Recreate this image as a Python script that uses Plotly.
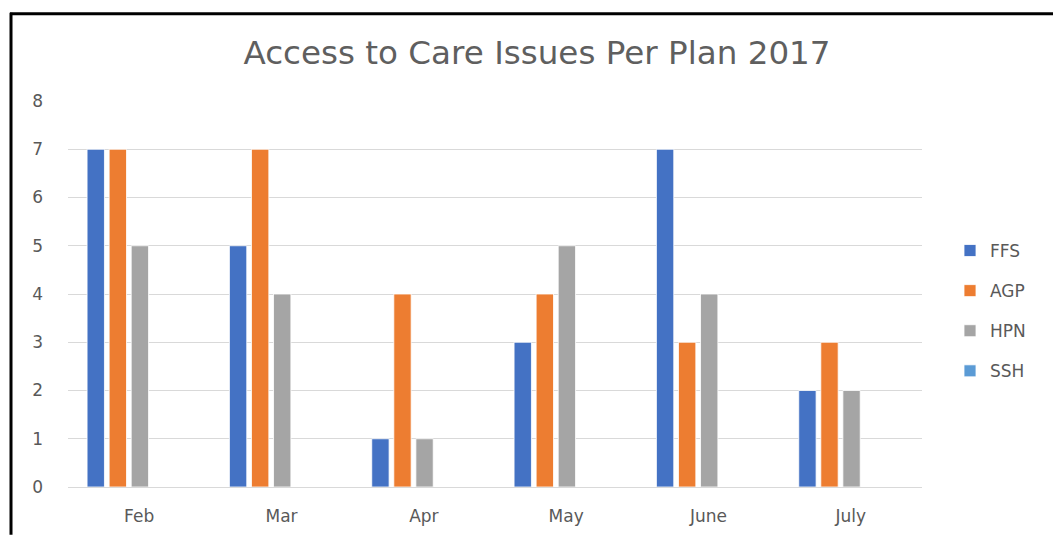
import plotly.graph_objects as go

months = ["Feb", "Mar", "Apr", "May", "June", "July"]
ffs = [7, 5, 1, 3, 7, 2]
agp = [7, 7, 4, 4, 3, 3]
hpn = [5, 4, 1, 5, 4, 2]
ssh = [0, 0, 0, 0, 0, 0]

series_names = ["FFS", "AGP", "HPN", "SSH"]
series_values = [ffs, agp, hpn, ssh]
colors = ["#4472C4", "#ED7D31", "#A5A5A5", "#5B9BD5"]

W, H = 1053, 538
L, R, T, B = 68, 131, 101, 48

bar_w = 0.122
step = 0.155
start = -0.366

FONT = "DejaVu Sans"

fig = go.Figure()
for i, (name, vals, col) in enumerate(zip(series_names, series_values, colors)):
    fig.add_trace(go.Bar(
        x=months, y=vals, name=name,
        marker=dict(color=col, line=dict(color="rgba(255,255,255,0.8)", width=1)),
        width=bar_w, offset=start + i * step,
        legendgroup=name,
    ))

def px_x(p):
    return (p - L) / (W - L - R)

def px_y(p):
    return (H - B - p) / (H - T - B)

fig.update_layout(
    width=W, height=H,
    margin=dict(l=L, r=R, t=T, b=B, pad=0),
    plot_bgcolor="white", paper_bgcolor="white",
    font=dict(family=FONT, color="#595959", size=17),
    title=dict(text="Access to Care Issues Per Plan 2017", x=537 / W, xanchor="center",
               y=1 - 53 / H, yanchor="middle",
               font=dict(family=FONT, size=32.6, color="#5f5f5f")),
    barmode="group",
    showlegend=True,
    legend=dict(x=px_x(950), xanchor="left", y=px_y(234), yanchor="top",
                font=dict(family=FONT, size=17, color="#595959"), tracegroupgap=15,
                itemwidth=30),
    xaxis=dict(showgrid=False, showline=True, linecolor="#D9D9D9", linewidth=1,
               ticks="", ticklabelstandoff=14, tickfont=dict(family=FONT, size=17, color="#595959")),
    yaxis=dict(range=[0, 8], dtick=1, showgrid=True, gridcolor="#D9D9D9", gridwidth=1,
               zeroline=False, showline=False, ticks="", ticklabelstandoff=24,
               tickfont=dict(family=FONT, size=17, color="#595959")),
    shapes=[
        dict(type="line", xref="paper", yref="paper", x0=px_x(10), x1=px_x(1053),
             y0=px_y(13), y1=px_y(13), line=dict(color="black", width=3)),
        dict(type="line", xref="paper", yref="paper", x0=px_x(11), x1=px_x(11),
             y0=px_y(12), y1=px_y(538), line=dict(color="black", width=3)),
    ],
)

fig.write_html("out.html")
